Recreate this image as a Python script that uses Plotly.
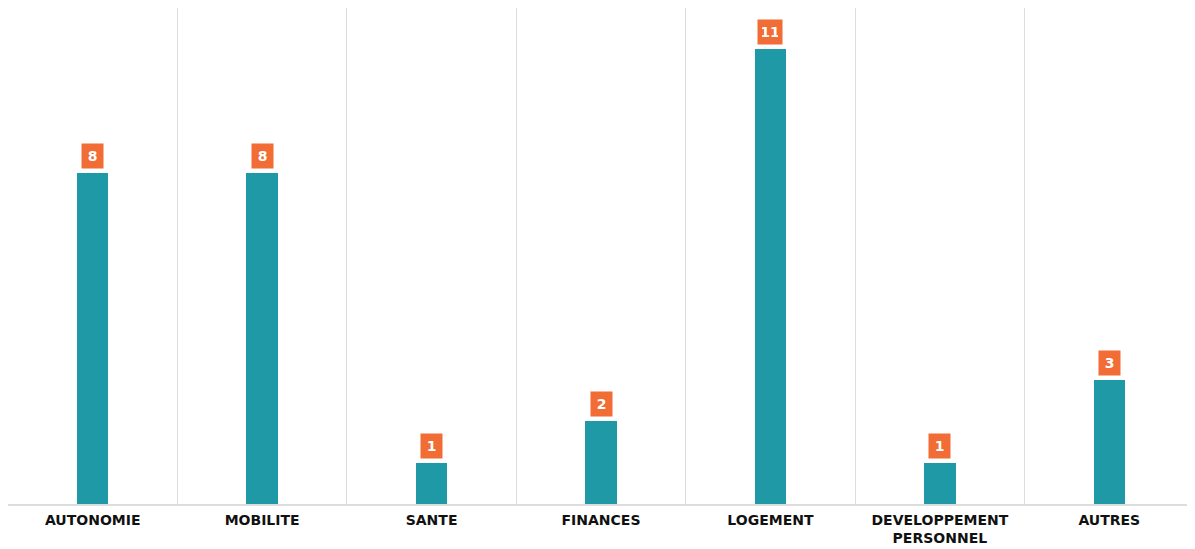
import plotly.graph_objects as go

categories = ["AUTONOMIE", "MOBILITE", "SANTE", "FINANCES", "LOGEMENT",
              "DEVELOPPEMENT<br>PERSONNEL", "AUTRES"]
values = [8, 8, 1, 2, 11, 1, 3]
value_labels = ["8", "8", "1", "2", "11", "1", "3"]

TEAL = "#1f99a5"
ORANGE = "#f26c35"
GRID = "#dcdcdc"

fig = go.Figure()
fig.add_trace(go.Bar(
    x=categories, y=values, width=0.185,
    marker=dict(color=TEAL, line=dict(width=0)),
    hoverinfo="x+y",
))

for c, v, t in zip(categories, values, value_labels):
    fig.add_annotation(
        x=c, y=v, xref="x", yref="y", text=f"<b>{t}</b>",
        showarrow=False, yanchor="bottom", yshift=4,
        font=dict(family="DejaVu Sans", size=14, color="white"),
        bgcolor=ORANGE, borderpad=4,
        width=13 if len(t) == 1 else 16, height=16,
    )

fig.update_layout(
    width=1187, height=541,
    margin=dict(l=0, r=1, t=0, b=45),
    paper_bgcolor="white", plot_bgcolor="white",
    showlegend=False,
    bargap=0,
    font=dict(family="DejaVu Sans", color="#111111"),
)
fig.update_xaxes(
    type="category",
    tickson="boundaries",
    showgrid=True, gridcolor=GRID, gridwidth=1,
    showline=True, linecolor=GRID, linewidth=2,
    ticks="", automargin=False, ticklabelstandoff=2,
    tickfont=dict(family="DejaVu Sans", size=14, color="#111111", weight="bold"),
    range=[-0.5, 6.5],
)
fig.update_yaxes(
    range=[0, 12], showgrid=False, zeroline=False,
    showticklabels=False, ticks="",
    showline=True, mirror=True, linecolor=GRID, linewidth=1,
)

fig.write_html("out.html")
